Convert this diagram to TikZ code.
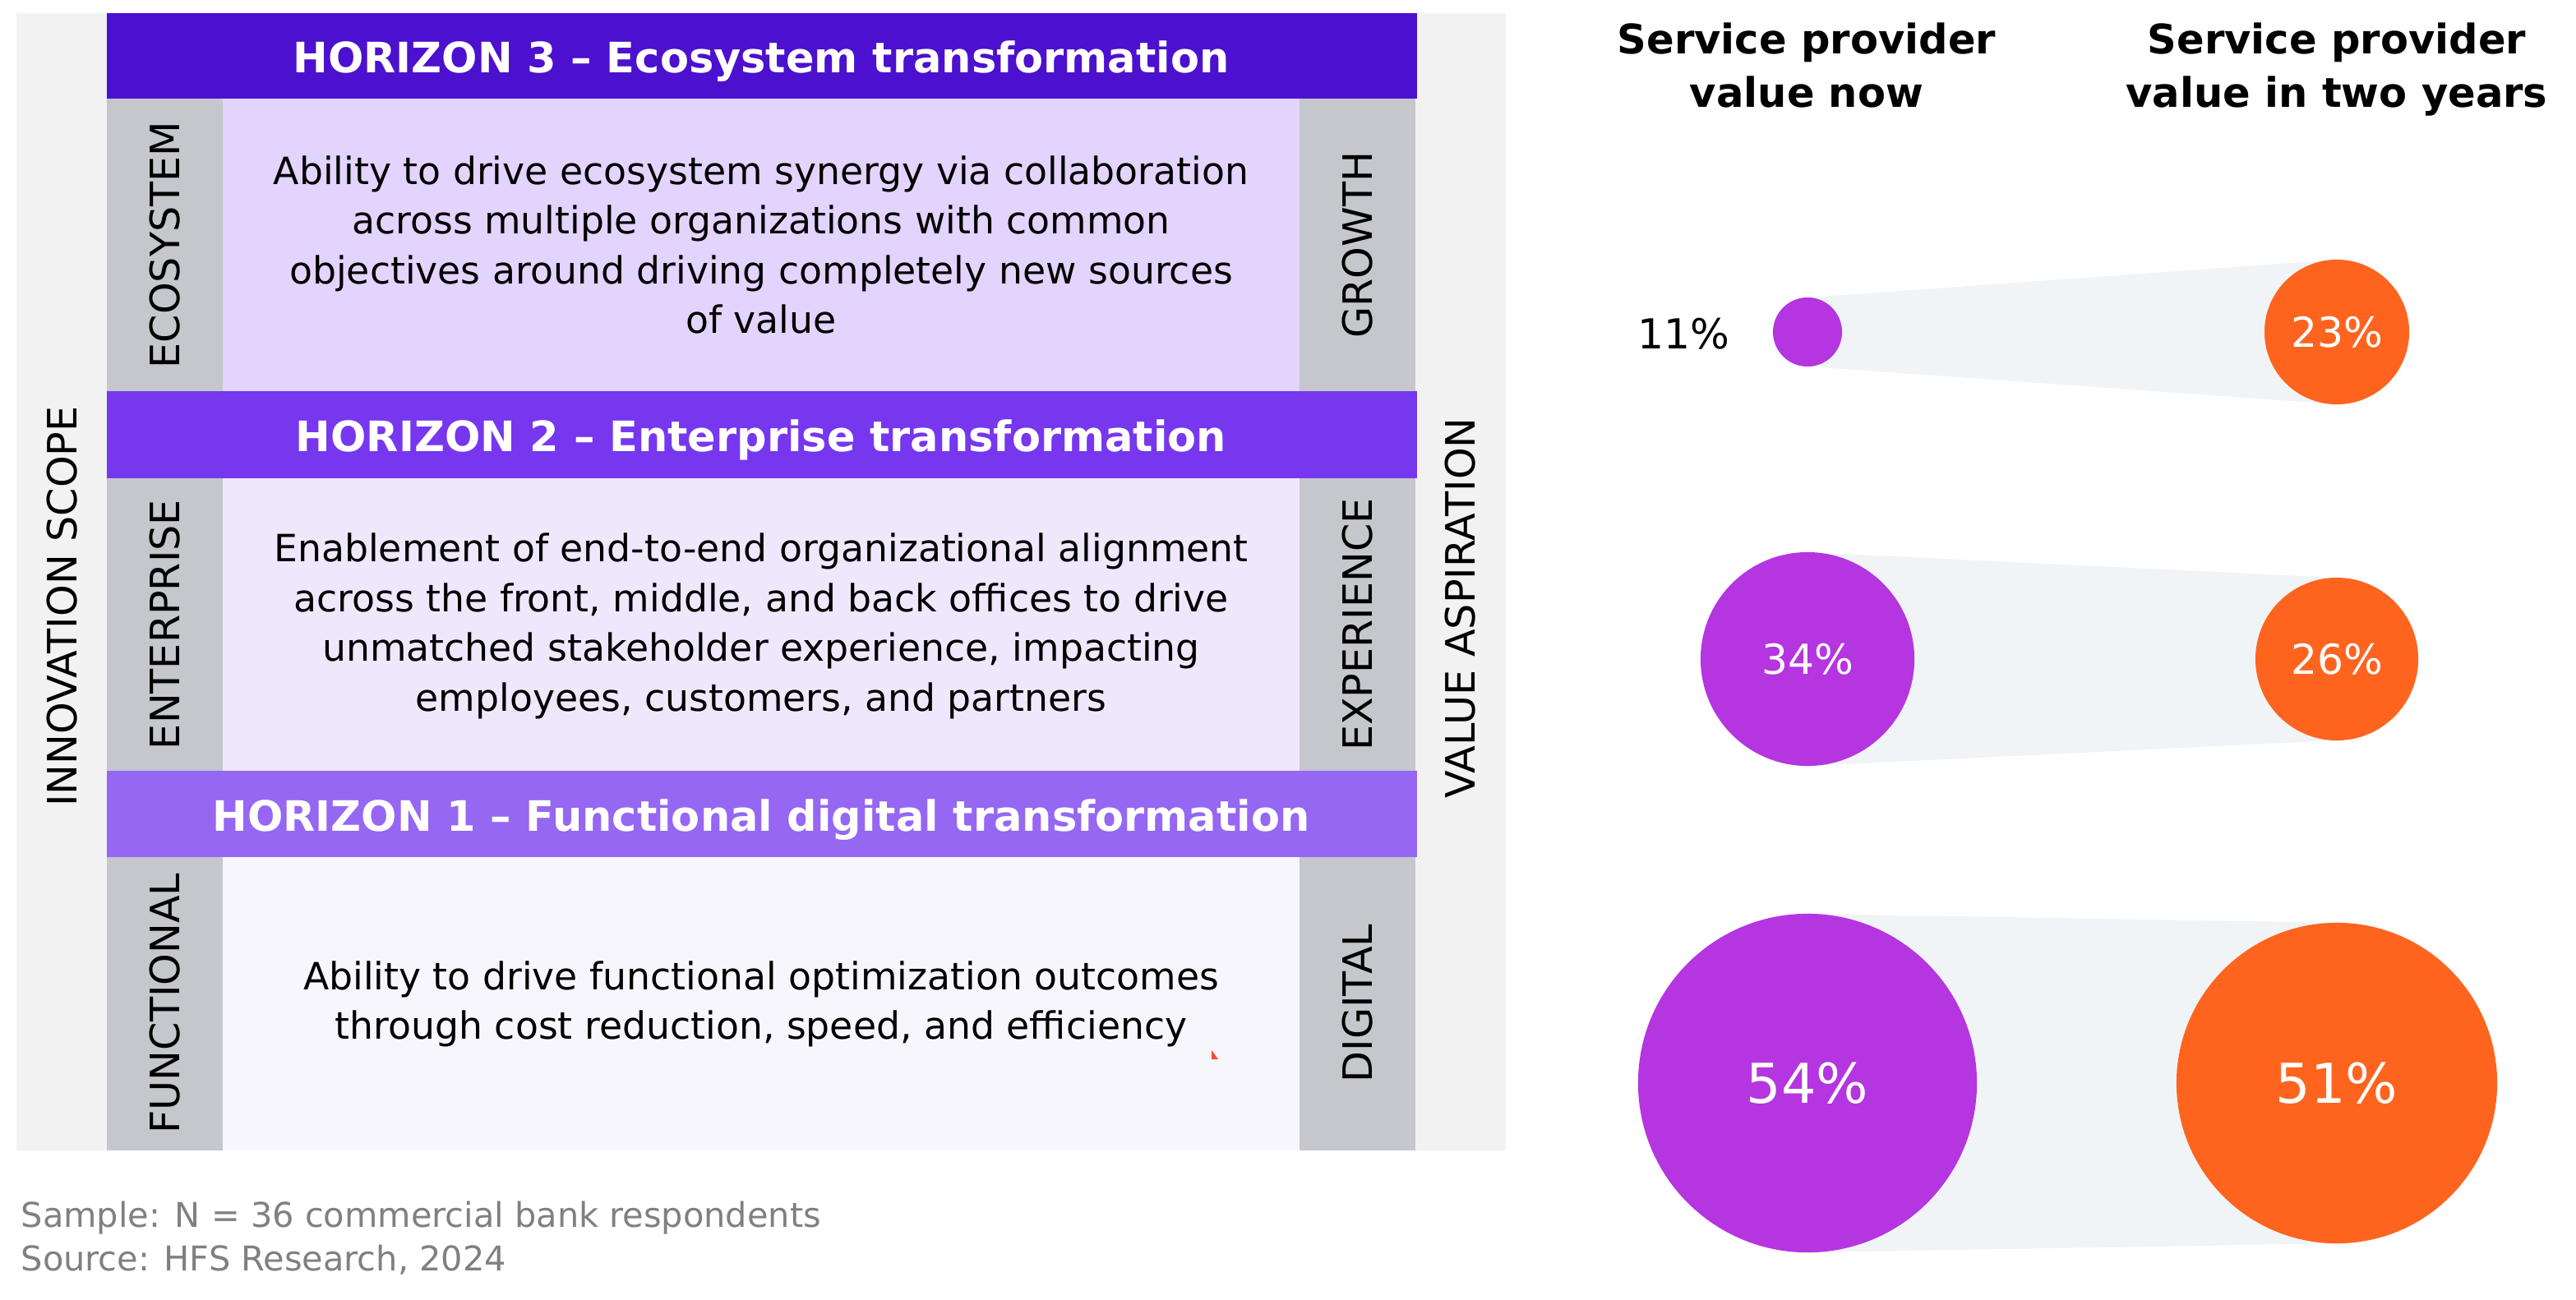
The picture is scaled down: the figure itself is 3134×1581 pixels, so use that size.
\documentclass[tikz,border=0pt]{standalone}
\usepackage{fontspec}
\setmainfont{DejaVu Sans}
\usetikzlibrary{backgrounds}
\definecolor{hzthree}{HTML}{4C10CF}
\definecolor{hztwo}{HTML}{7637EF}
\definecolor{hzone}{HTML}{9567F3}
\definecolor{ecobg}{HTML}{E2D4FD}
\definecolor{entbg}{HTML}{EFE8FD}
\definecolor{funbg}{HTML}{F8F6FD}
\definecolor{colgray}{HTML}{C5C7CC}
\definecolor{outerbg}{HTML}{F2F2F2}
\definecolor{purp}{HTML}{B535E0}
\definecolor{orng}{HTML}{FF641F}
\definecolor{bandc}{HTML}{F1F4F7}
\definecolor{footc}{HTML}{808080}
\definecolor{redmark}{HTML}{EE4B36}
\begin{document}
\begin{tikzpicture}[x=0.01cm,y=-0.01cm,
  hdr/.style={anchor=base,text=white,font=\fontsize{14.5}{17}\selectfont\bfseries,inner sep=0},
  body/.style={align=center,font=\fontsize{13}{17.2}\selectfont,inner sep=0},
  vlab/.style={rotate=90,font=\fontsize{14}{17}\selectfont,inner sep=0},
  foot/.style={anchor=base west,text=footc,font=\fontsize{11.8}{14}\selectfont,inner sep=0},
  colhead/.style={anchor=base,font=\fontsize{14.1}{17}\selectfont\bfseries,inner sep=0},
  bubble/.style={circle,inner sep=0,outer sep=0,text=white},
  pct/.style={font=\fontsize{14.3}{17}\selectfont},
  bigpct/.style={font=\fontsize{19}{22}\selectfont}]
\useasboundingbox (0,0) rectangle (3134,1581);
% left panel backgrounds
\fill[outerbg] (20,16) rectangle (1832,1400);
\fill[hzthree] (130,16) rectangle (1724,120);
\fill[ecobg] (271,120) rectangle (1581,476);
\fill[hztwo] (130,476) rectangle (1724,582);
\fill[entbg] (271,582) rectangle (1581,938);
\fill[hzone] (130,938) rectangle (1724,1043);
\fill[funbg] (271,1043) rectangle (1581,1400);
\fill[colgray] (130,120) rectangle (271,476);
\fill[colgray] (130,582) rectangle (271,938);
\fill[colgray] (130,1043) rectangle (271,1400);
\fill[colgray] (1581,120) rectangle (1722,476);
\fill[colgray] (1581,582) rectangle (1722,938);
\fill[colgray] (1581,1043) rectangle (1722,1400);
\fill[redmark] (1474,1278) -- (1474,1289) -- (1482,1289) -- cycle;
% headers
\node[hdr] (h3) at (926,88) {HORIZON 3 – Ecosystem transformation};
\node[hdr] (h2) at (926,549) {HORIZON 2 – Enterprise transformation};
\node[hdr] (h1) at (926,1011) {HORIZON 1 – Functional digital transformation};
% body texts
\node[body] (t3) at (926,298) {Ability to drive ecosystem synergy via collaboration\\across multiple organizations with common\\objectives around driving completely new sources\\of value};
\node[body] (t2) at (926,762) {Enablement of end-to-end organizational alignment\\across the front, middle, and back offices to drive\\unmatched stakeholder experience, impacting\\employees, customers, and partners};
\node[body] (t1) at (926,1222) {Ability to drive functional optimization outcomes\\through cost reduction, speed, and efficiency};
% vertical labels
\node[vlab] (l3) at (201,298) {ECOSYSTEM};
\node[vlab] (l2) at (201,760) {ENTERPRISE};
\node[vlab] (l1) at (201,1221) {FUNCTIONAL};
\node[vlab] (r3) at (1652,298) {GROWTH};
\node[vlab] (r2) at (1652,760) {EXPERIENCE};
\node[vlab] (r1) at (1652,1221) {DIGITAL};
\node[vlab] (scope) at (76,738) {INNOVATION SCOPE};
\node[vlab] (aspir) at (1777,740) {VALUE ASPIRATION};
% footer
\node[foot] (samp) at (25,1493) {Sample: N = 36 commercial bank respondents};
\node[foot] (src) at (25,1546) {Source: HFS Research, 2024};
% column headers
\node[colhead] (cha) at (2198,65) {Service provider};
\node[colhead] (chb) at (2198,130) {value now};
\node[colhead] (cta) at (2843,65) {Service provider};
\node[colhead] (ctb) at (2843,130) {value in two years};
% bubbles
\node[bubble,fill=purp,minimum size=0.84cm] (p1) at (2199,404) {};
\node[bubble,fill=orng,minimum size=1.76cm,pct] (o1) at (2843,404) {23\%};
\node[bubble,fill=purp,minimum size=2.6cm,pct] (p2) at (2199,802) {34\%};
\node[bubble,fill=orng,minimum size=1.98cm,pct] (o2) at (2843,802) {26\%};
\node[bubble,fill=purp,minimum size=4.12cm,bigpct] (p3) at (2199,1318) {54\%};
\node[bubble,fill=orng,minimum size=3.9cm,bigpct] (o3) at (2843,1318) {51\%};
\node[pct,inner sep=0] (v11) at (2048,406) {11\%};
\begin{pgfonlayer}{background}
\fill[bandc] (p1.north) -- (o1.north) -- (o1.south) -- (p1.south) -- cycle;
\fill[bandc] (p2.north) -- (o2.north) -- (o2.south) -- (p2.south) -- cycle;
\fill[bandc] (p3.north) -- (o3.north) -- (o3.south) -- (p3.south) -- cycle;
\end{pgfonlayer}
\end{tikzpicture}
\end{document}
